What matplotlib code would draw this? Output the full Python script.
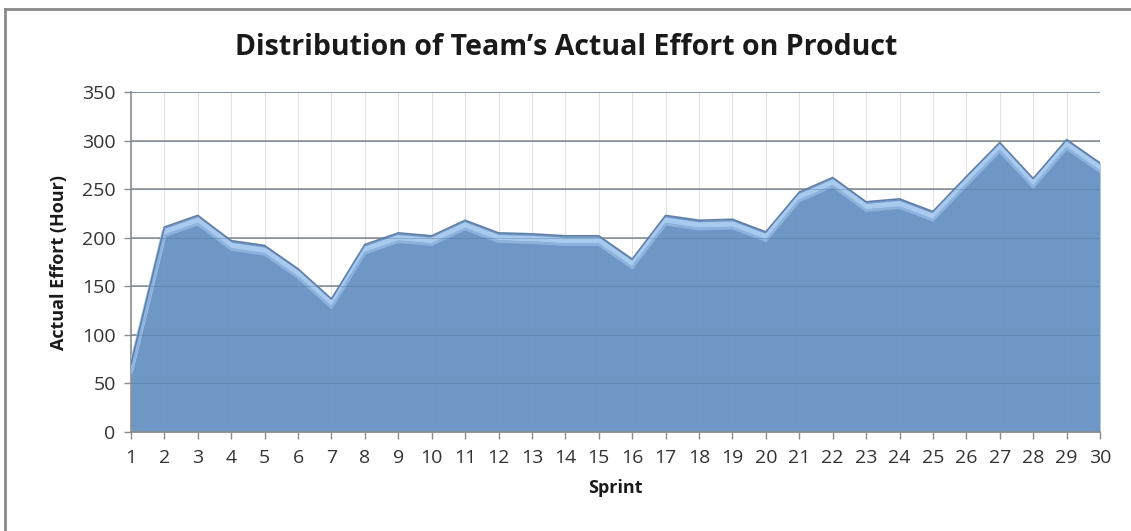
import numpy as np
import matplotlib
matplotlib.use('Agg')
import matplotlib.pyplot as plt
from matplotlib.lines import Line2D

sprints = list(range(1, 31))
effort = [70, 211, 223, 197, 192, 168, 137, 193, 205, 202,
          218, 205, 204, 202, 202, 178, 223, 218, 219, 206,
          247, 262, 237, 240, 227, 263, 298, 261, 301, 277]
y_ticks = [0, 50, 100, 150, 200, 250, 300, 350]

plt.rcParams['font.family'] = ['Open Sans', 'DejaVu Sans']

fig = plt.figure(figsize=(11.31, 5.31), dpi=100)
ax = fig.add_axes([0.1158, 0.1864, 0.8568, 0.6403])

x = np.array(sprints)
y = np.array(effort, dtype=float)

# area body
area = ax.fill_between(x, 0, y, color='#6E97C6', lw=0, zorder=2)
clip_path = area.get_paths()[0]
# light bevel just below the top edge
ax.plot(x, y - 5, color='#A8CAEE', lw=4, solid_joinstyle='miter', zorder=3)
ax.plot(x, y - 9, color='#8DB2DD', lw=2, zorder=3)
# outline along the top
ax.plot(x, y, color='#5F7FA8', lw=1.2, zorder=4)

ax.set_xlim(1, 30)
ax.set_ylim(0, 350)
ax.set_xticks(sprints)
ax.set_yticks(y_ticks)

# gridlines
for v in y_ticks[1:]:
    ax.axhline(v, color='#8C8C8C', lw=1.1, zorder=1)
    ax.axhline(v, color='#4F6F96', lw=0.8, alpha=0.35, zorder=3)
for s in sprints[1:]:
    ax.axvline(s, color='#E3E3E3', lw=0.8, zorder=0)
    faint = ax.axvline(s, color='#7FA3CE', lw=0.6, alpha=0.25, zorder=2.5)
    faint.set_clip_path(clip_path, ax.transData)

for side in ['top', 'right']:
    ax.spines[side].set_visible(False)
for side in ['left', 'bottom']:
    ax.spines[side].set_color('#8C8C8C')
    ax.spines[side].set_linewidth(1.2)

ax.tick_params(axis='both', colors='#8C8C8C', labelcolor='#333333',
               labelsize=14, length=5, width=1)
ax.tick_params(axis='x', pad=7)
ax.tick_params(axis='y', pad=6)

ax.set_xlabel('Sprint', fontsize=13, fontweight='bold', labelpad=9, color='#1A1A1A')
ax.set_ylabel('Actual Effort (Hour)', fontsize=13, fontweight='bold', labelpad=10,
              color='#1A1A1A')

fig.text(0.5005, 0.911, 'Distribution of Team\u2019s Actual Effort on Product',
         ha='center', va='center', fontsize=20.5, fontweight='bold', color='#1A1A1A')

# frame lines on top and left of the chart area
fig.add_artist(Line2D([0.0045, 1.0], [0.983, 0.983], transform=fig.transFigure,
                      color='#8A8A8A', lw=2))
fig.add_artist(Line2D([0.0045, 0.0045], [0.0, 0.983], transform=fig.transFigure,
                      color='#8A8A8A', lw=2))

fig.savefig('out.png', dpi=100)
